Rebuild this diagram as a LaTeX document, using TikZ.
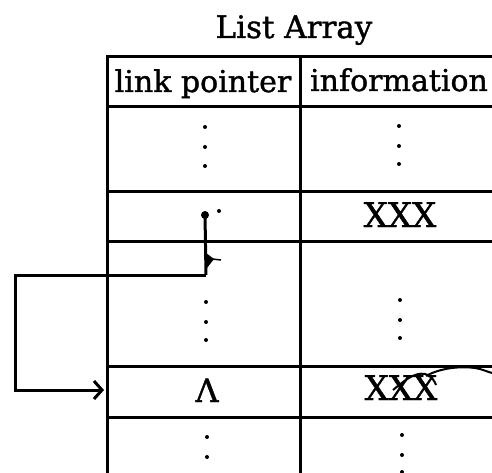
\documentclass[tikz,border=0pt]{standalone}
\usepackage{fontspec}
\setmainfont[FakeBold=1.2]{DejaVu Serif}
\usetikzlibrary{arrows.meta}

\begin{document}
\begin{tikzpicture}[
    x=1pt, y=-1pt,
    % Stili
    tableline/.style={line width=3pt},
    headtext/.style={anchor=base, inner sep=0pt, font=\fontsize{30}{30}\selectfont},
    entry/.style={anchor=base, inner sep=0pt, font=\fontsize{34}{34}\selectfont},
    vdot/.style={circle, fill, inner sep=0pt, minimum size=4pt},
    headdot/.style={circle, fill, inner sep=0pt, minimum size=8pt},
    link/.style={line width=3pt}
  ]
  \useasboundingbox (0,0) rectangle (492,473);

  % Titolo e intestazione
  \node (title) [headtext, font=\fontsize{31}{31}\selectfont] at (294,38) {List Array};
  \node (hlink) [headtext] at (203,92) {link pointer};
  \node (hinfo) [headtext] at (399,91) {information};

  % Griglia
  \draw [tableline] (107,473) -- (107,57) -- (492,57);
  \draw [tableline] (300,57) -- (300,473);
  \foreach \y in {107,191,241,366,417}
    \draw [tableline] (107,\y) -- (492,\y);

  % Righe
  \node (info2) [entry] at (400,227) {XXX};
  \node (info4) [entry] at (401,400) {XXX};
  \node (nil4) [entry, font=\fontsize{32}{32}\selectfont] at (207,402) {Λ};

  % Puntini
  \foreach \x/\y in {205/127, 205/147, 205/166, 399/126, 399/146, 399/164,
                     206/302, 206/322, 206/340, 400/300, 400/320, 400/338,
                     207/437, 207/457, 402/435, 402/455, 402/472}
    \node [vdot] at (\x,\y) {};

  % Collegamento
  \node (ptr) [headdot] at (205,215) {};
  \node [vdot] at (219,211) {};
  \coordinate (bendA) at (206,275);
  \coordinate (bendB) at (15,275);
  \coordinate (bendC) at (15,390);
  \coordinate (target) at (104,390);
  \draw [link] (ptr.center) -- (bendA);
  \fill ([shift={(0,-22)}]bendA) -- ++(8,6) -- ++(-7,9) -- cycle;
  \draw [line width=1.5pt] ([shift={(6,-16)}]bendA) -- ++(9,1);
  \draw [link, -{Straight Barb[length=8pt,width=18pt]}] (bendA) -- (bendB) -- (bendC) -- (target);

  % Scarabocchio
  \draw [line width=2pt] (393,390) .. controls (405,380) and (415,372) .. (425,374)
    .. controls (432,376) and (435,382) .. (436,385);
  \draw [line width=2pt] (426,376) .. controls (440,368) and (460,366) .. (475,368)
    .. controls (482,369) and (488,372) .. (492,373);

\end{tikzpicture}
\end{document}
